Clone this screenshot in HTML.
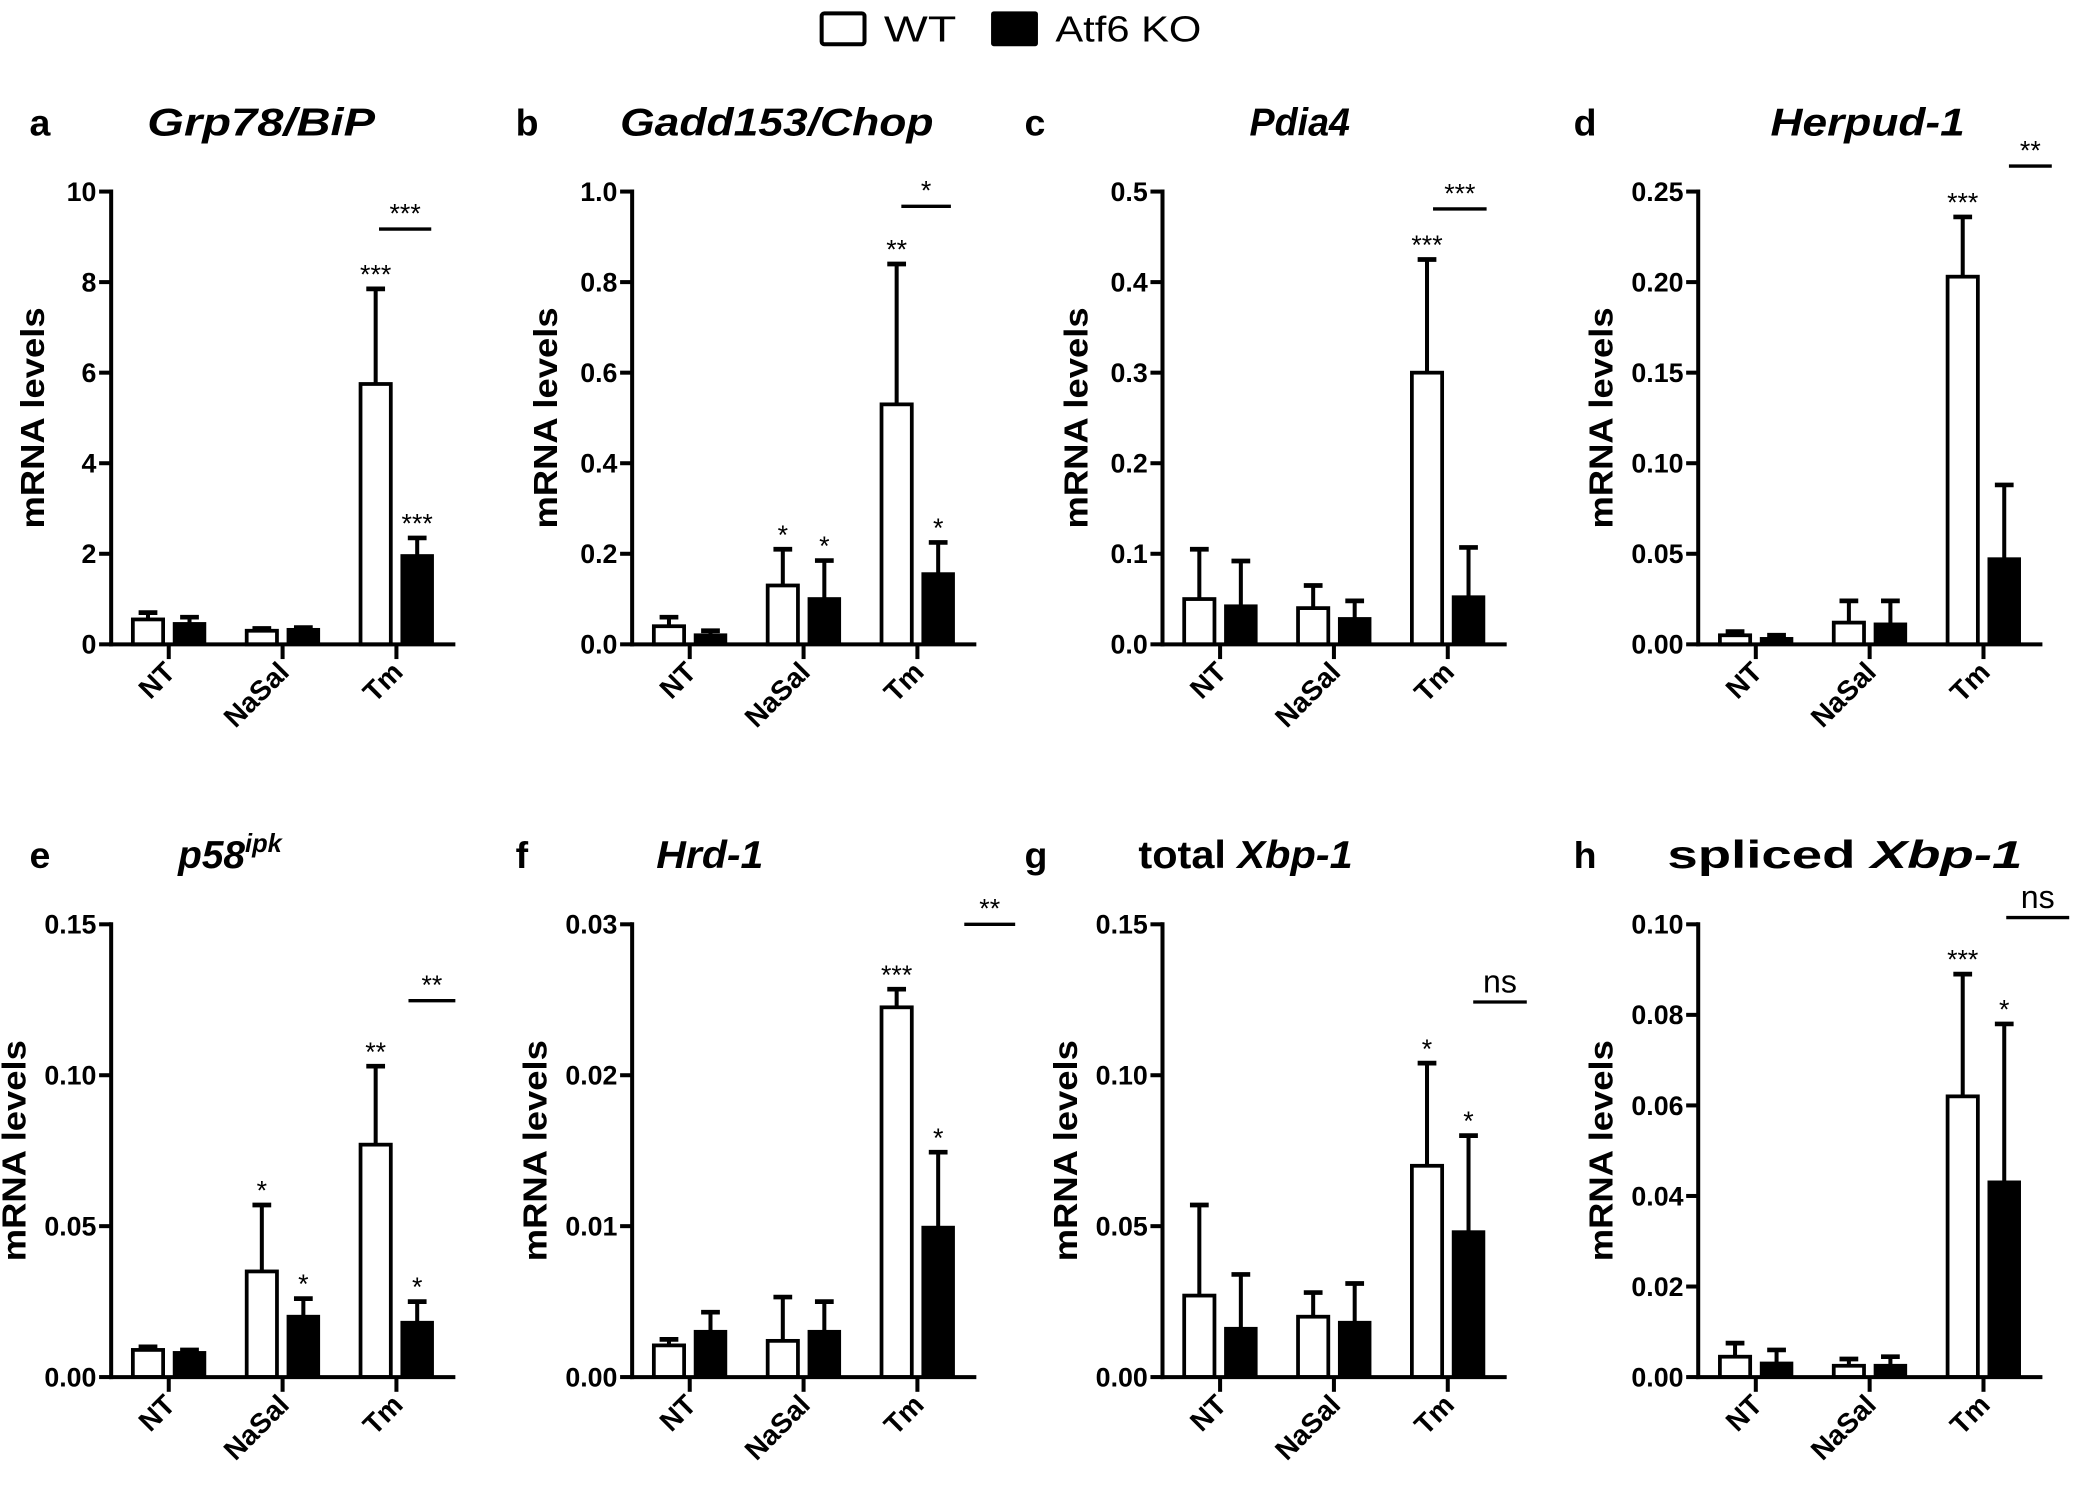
<!DOCTYPE html>
<html><head><meta charset="utf-8"><style>
html,body{margin:0;padding:0;background:#fff;}
svg{display:block;}
text{font-family:"Liberation Sans",Arial,sans-serif;fill:#000;}
</style></head><body>
<svg id="s" width="2100" height="1503" viewBox="0 0 1568 1122" preserveAspectRatio="none" xmlns="http://www.w3.org/2000/svg">
<rect x="0" y="0" width="1568" height="1122" fill="#fff"/>
<rect x="613.5" y="10" width="32" height="23" fill="#fff" stroke="#000" stroke-width="3" rx="2"/>
<text x="660" y="31" font-size="27" textLength="54" lengthAdjust="spacingAndGlyphs">WT</text>
<rect x="740" y="8.5" width="35" height="26" fill="#000" rx="2"/>
<text x="788" y="31" font-size="27" textLength="109" lengthAdjust="spacingAndGlyphs">Atf6 KO</text>
</svg>
<script>
var S=document.getElementById('s'),NS='http://www.w3.org/2000/svg';
function el(t,a,txt){var e=document.createElementNS(NS,t);for(var k in a)e.setAttribute(k,a[k]);if(txt!=null)e.textContent=txt;S.appendChild(e);return e;}
function ln(x1,y1,x2,y2,w){el('line',{x1:x1,y1:y1,x2:x2,y2:y2,stroke:'#000','stroke-width':w||3});}
var P=[
{ax:83,top:143,bot:481,max:10,ticks:['0','2','4','6','8','10'],L:'a',lx:22,title:'<tspan font-style="italic">Grp78/BiP</tspan>',tx:110,tw:170,
 d:[[0.55,0.15,0.45,0.15],[0.3,0.05,0.32,0.05],[5.75,2.1,1.95,0.4]],st:[['',''],['',''],['***','***']],br:[171,283,322,'***']},
{ax:472,top:143,bot:481,max:1,ticks:['0.0','0.2','0.4','0.6','0.8','1.0'],L:'b',lx:385,title:'<tspan font-style="italic">Gadd153/Chop</tspan>',tx:463,tw:234,
 d:[[0.04,0.02,0.02,0.01],[0.13,0.08,0.10,0.085],[0.53,0.31,0.155,0.07]],st:[['',''],['*','*'],['**','*']],br:[154,673,710,'*']},
{ax:868,top:143,bot:481,max:0.5,ticks:['0.0','0.1','0.2','0.3','0.4','0.5'],L:'c',lx:765,title:'<tspan font-style="italic">Pdia4</tspan>',tx:933,tw:75,
 d:[[0.05,0.055,0.042,0.05],[0.04,0.025,0.028,0.02],[0.30,0.125,0.052,0.055]],st:[['',''],['',''],['***','']],br:[156,1070,1110,'***']},
{ax:1268,top:143,bot:481,max:0.25,ticks:['0.00','0.05','0.10','0.15','0.20','0.25'],L:'d',lx:1175,title:'<tspan font-style="italic">Herpud-1</tspan>',tx:1322,tw:145,
 d:[[0.005,0.002,0.003,0.002],[0.012,0.012,0.011,0.013],[0.203,0.033,0.047,0.041]],st:[['',''],['',''],['***','']],br:[124,1500,1532,'**']},
{ax:83,top:690,bot:1028,max:0.15,ticks:['0.00','0.05','0.10','0.15'],L:'e',lx:22,title:'<tspan font-style="italic">p58<tspan font-size="19" dy="-12">ipk</tspan></tspan>',tx:133,tw:0,
 d:[[0.009,0.001,0.008,0.001],[0.035,0.022,0.02,0.006],[0.077,0.026,0.018,0.007]],st:[['',''],['*','*'],['**','*']],br:[747,305,340,'**']},
{ax:472,top:690,bot:1028,max:0.03,ticks:['0.00','0.01','0.02','0.03'],L:'f',lx:385,title:'<tspan font-style="italic">Hrd-1</tspan>',tx:490,tw:80,
 d:[[0.0021,0.0004,0.003,0.0013],[0.0024,0.0029,0.003,0.002],[0.0245,0.0012,0.0099,0.005]],st:[['',''],['',''],['***','*']],br:[690,720,758,'**']},
{ax:868,top:690,bot:1028,max:0.15,ticks:['0.00','0.05','0.10','0.15'],L:'g',lx:765,title:'total <tspan font-style="italic">Xbp-1</tspan>',tx:850,tw:160,
 d:[[0.027,0.03,0.016,0.018],[0.020,0.008,0.018,0.013],[0.07,0.034,0.048,0.032]],st:[['',''],['',''],['*','*']],br:[748,1100,1140,'ns']},
{ax:1268,top:690,bot:1028,max:0.10,ticks:['0.00','0.02','0.04','0.06','0.08','0.10'],L:'h',lx:1175,title:'spliced <tspan font-style="italic">Xbp-1</tspan>',tx:1245,tw:265,
 d:[[0.0045,0.003,0.003,0.003],[0.0025,0.0015,0.0025,0.002],[0.062,0.027,0.043,0.035]],st:[['',''],['',''],['***','*']],br:[685,1498,1545,'ns']}
];
var names=['NT','NaSal','Tm'];
P.forEach(function(p){
 var len=257,ax=p.ax,sc=(p.bot-p.top)/p.max;
 function Y(v){return p.bot-v*sc;}
 var ty=p.top-42;
 el('text',{x:p.lx,y:ty,'font-size':28,'font-weight':'bold'},p.L);
 var ta={x:p.tx,y:ty,'font-size':29,'font-weight':'bold'};
 if(p.tw){ta.textLength=p.tw;ta.lengthAdjust='spacingAndGlyphs';}
 var t=el('text',ta);t.innerHTML=p.title;
 for(var g=0;g<3;g++){
  var c=ax+43+g*85,dd=p.d[g];
  [[c-28,dd[0],dd[1],0],[c+3,dd[2],dd[3],1]].forEach(function(b){
   var x=b[0],w=25,yt=Y(b[1]),ye=Y(b[1]+b[2]),cx=x+w/2;
   ln(cx,yt,cx,ye,3);ln(cx-7,ye,cx+7,ye,3.5);
   if(b[3]==0)el('rect',{x:x+1.2,y:yt,width:w-2.4,height:p.bot-yt,fill:'#fff',stroke:'#000','stroke-width':2.8});
   else el('rect',{x:x,y:yt-1.4,width:w,height:p.bot-yt+1.4,fill:'#000'});
   var s=p.st[g][b[3]];
   if(s)el('text',{x:cx,y:ye-4,'font-size':20,'text-anchor':'middle'},s);
  });
  ln(c,p.bot,c,p.bot+11,3);
  el('text',{x:0,y:0,'font-size':21,'font-weight':'bold','text-anchor':'end',transform:'translate('+(c+6)+','+(p.bot+22)+') rotate(-45)'},names[g]);
 }
 ln(ax,p.top-1.5,ax,p.bot+1.5,3);ln(ax-1.5,p.bot,ax+len,p.bot,3);
 var n=p.ticks.length;
 for(var i=0;i<n;i++){var yy=p.bot-(p.bot-p.top)*i/(n-1);ln(ax-9,yy,ax,yy,3);
  el('text',{x:ax-11,y:yy+7,'font-size':20,'font-weight':'bold','text-anchor':'end'},p.ticks[i]);}
 var maxw=0;p.ticks.forEach(function(s){maxw=Math.max(maxw,s.length);});
 var ylx=ax-(maxw<=2?50:maxw==3?56:64);
 el('text',{x:0,y:0,'font-size':25,'font-weight':'bold','text-anchor':'middle',textLength:165,lengthAdjust:'spacingAndGlyphs',transform:'translate('+ylx+','+((p.top+p.bot)/2)+') rotate(-90)'},'mRNA levels');
 var b=p.br;ln(b[1],b[0],b[2],b[0],2.5);
 el('text',{x:(b[1]+b[2])/2,y:b[0]-(b[3]=='ns'?7:5),'font-size':b[3]=='ns'?24:20,'text-anchor':'middle'},b[3]);
});
</script>
</body></html>
